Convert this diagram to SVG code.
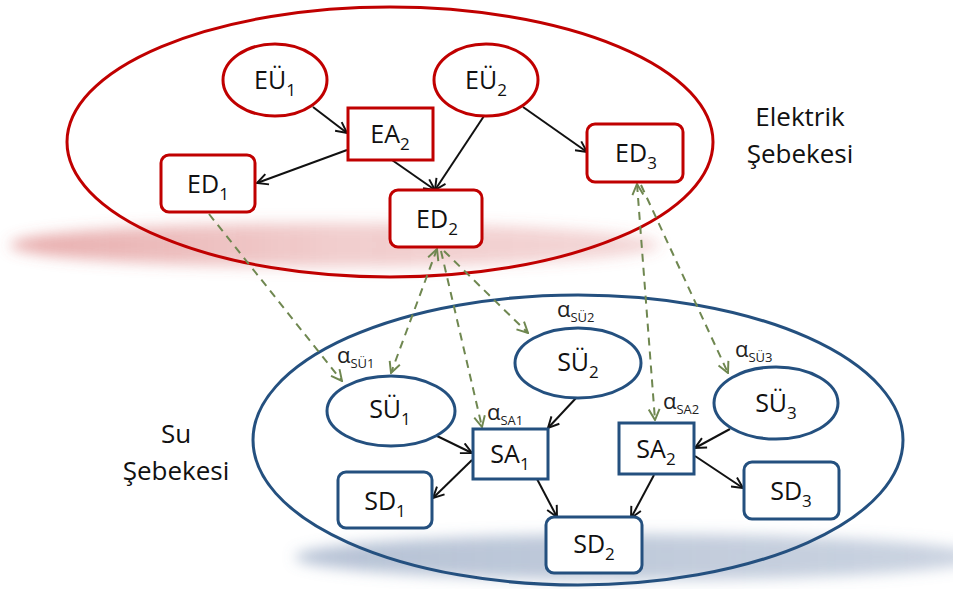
<svg xmlns="http://www.w3.org/2000/svg" width="953" height="589" viewBox="0 0 953 589">
<style>
.big-red { fill: none; stroke: #C00000; stroke-width: 3; }
.big-blue { fill: none; stroke: #24507f; stroke-width: 3; }
.n-red { fill: #ffffff; stroke: #C00000; stroke-width: 3; }
.n-blue { fill: #ffffff; stroke: #24507f; stroke-width: 3; }
.lbl { font-family: "Open Sans", "Liberation Sans", sans-serif; font-size: 25px; fill: #111111; text-anchor: middle; }
.sub { font-size: 17px; }
.title { font-family: "Open Sans", "Liberation Sans", sans-serif; font-size: 26px; fill: #111111; text-anchor: middle; }
.alpha { font-family: "Open Sans", "Liberation Sans", sans-serif; font-size: 22px; fill: #222222; }
.asub { font-size: 13px; }
.blk { stroke: #111111; stroke-width: 2; fill: none; marker-end: url(#ah); }
.grn { stroke: #6f8750; stroke-width: 2; stroke-dasharray: 8 6; fill: none; marker-end: url(#gh); }
.grn2 { marker-start: url(#gh); }
</style>
<defs>
<marker id="ah" viewBox="0 0 12 12" refX="11" refY="6" markerWidth="13" markerHeight="13" markerUnits="userSpaceOnUse" orient="auto-start-reverse">
<path d="M1,1 L11,6 L1,11" fill="none" stroke="#111111" stroke-width="1.8"/>
</marker>
<marker id="gh" viewBox="0 0 12 12" refX="11" refY="6" markerWidth="13" markerHeight="13" markerUnits="userSpaceOnUse" orient="auto-start-reverse">
<path d="M1,1 L11,6 L1,11" fill="none" stroke="#6f8750" stroke-width="1.8" stroke-dasharray="none"/>
</marker>
<filter id="blur" x="-20%" y="-100%" width="140%" height="300%">
<feGaussianBlur stdDeviation="7"/>
</filter>
<linearGradient id="redsh" x1="0" y1="0" x2="1" y2="0">
<stop offset="0" stop-color="#d05a5a" stop-opacity="0.5"/>
<stop offset="0.5" stop-color="#d05a5a" stop-opacity="0.3"/>
<stop offset="1" stop-color="#d05a5a" stop-opacity="0.25"/>
</linearGradient>
<linearGradient id="bluesh" x1="0" y1="0" x2="1" y2="0">
<stop offset="0" stop-color="#6c84aa" stop-opacity="0.5"/>
<stop offset="1" stop-color="#6c84aa" stop-opacity="0.35"/>
</linearGradient>
</defs>

<g id="shadows">
<ellipse cx="335" cy="245" rx="325" ry="22" fill="url(#redsh)" filter="url(#blur)"/>
<ellipse cx="640" cy="557" rx="345" ry="23" fill="url(#bluesh)" filter="url(#blur)"/>
</g>

<g id="elektrik-sebekesi">
<ellipse class="big-red" cx="390" cy="142" rx="323" ry="135"/>
<text class="title" x="800" y="126">Elektrik</text>
<text class="title" x="800" y="163">Şebekesi</text>
</g>

<g id="su-sebekesi">
<ellipse class="big-blue" cx="578" cy="440" rx="325" ry="145"/>
<text class="title" x="176" y="443">Su</text>
<text class="title" x="176" y="480">Şebekesi</text>
</g>

<g id="connectors">
<line class="blk" x1="313" y1="107" x2="347" y2="133"/>
<line class="blk" x1="347" y1="150" x2="257" y2="183"/>
<line class="blk" x1="392" y1="160" x2="435" y2="190"/>
<line class="blk" x1="484" y1="116" x2="435" y2="190"/>
<line class="blk" x1="523" y1="107" x2="587" y2="152"/>
<line class="blk" x1="437" y1="436" x2="472" y2="453"/>
<line class="blk" x1="472" y1="460" x2="433" y2="498"/>
<line class="blk" x1="577" y1="397" x2="548" y2="428"/>
<line class="blk" x1="537" y1="479" x2="557" y2="517"/>
<line class="blk" x1="654" y1="475" x2="631" y2="518"/>
<line class="blk" x1="730" y1="429" x2="695" y2="448"/>
<line class="blk" x1="695" y1="456" x2="743" y2="488"/>
<line class="grn" x1="209" y1="214" x2="342" y2="381"/>
<line class="grn grn2" x1="437" y1="249" x2="391" y2="373"/>
<line class="grn" x1="441" y1="251" x2="482" y2="427"/>
<line class="grn" x1="444" y1="251" x2="528" y2="333"/>
<line class="grn grn2" x1="637" y1="184" x2="655" y2="420"/>
<line class="grn" x1="641" y1="185" x2="728" y2="373"/>
</g>

<g id="EU1">
<ellipse class="n-red" cx="275" cy="80" rx="52" ry="36"/>
<text class="lbl" x="275" y="89">EÜ<tspan class="sub" dy="7">1</tspan></text>
</g>
<g id="EU2">
<ellipse class="n-red" cx="486" cy="80" rx="52" ry="36"/>
<text class="lbl" x="486" y="89">EÜ<tspan class="sub" dy="7">2</tspan></text>
</g>
<g id="EA2">
<rect class="n-red" x="348" y="108" width="85" height="52"/>
<text class="lbl" x="390" y="143">EA<tspan class="sub" dy="7">2</tspan></text>
</g>
<g id="ED1">
<rect class="n-red" x="161" y="155" width="94" height="57" rx="8"/>
<text class="lbl" x="208" y="193">ED<tspan class="sub" dy="7">1</tspan></text>
</g>
<g id="ED2">
<rect class="n-red" x="390" y="190" width="92" height="57" rx="8"/>
<text class="lbl" x="437" y="228">ED<tspan class="sub" dy="7">2</tspan></text>
</g>
<g id="ED3">
<rect class="n-red" x="587" y="124" width="96" height="58" rx="8"/>
<text class="lbl" x="636" y="162">ED<tspan class="sub" dy="7">3</tspan></text>
</g>

<g id="SU1">
<ellipse class="n-blue" cx="391" cy="411" rx="64" ry="35"/>
<text class="lbl" x="390" y="418">SÜ<tspan class="sub" dy="7">1</tspan></text>
</g>
<g id="SU2">
<ellipse class="n-blue" cx="578" cy="363" rx="63" ry="35"/>
<text class="lbl" x="578" y="371">SÜ<tspan class="sub" dy="7">2</tspan></text>
</g>
<g id="SU3">
<ellipse class="n-blue" cx="776" cy="403" rx="62" ry="36"/>
<text class="lbl" x="776" y="412">SÜ<tspan class="sub" dy="7">3</tspan></text>
</g>
<g id="SA1">
<rect class="n-blue" x="473" y="429" width="75" height="50"/>
<text class="lbl" x="510" y="463">SA<tspan class="sub" dy="7">1</tspan></text>
</g>
<g id="SA2">
<rect class="n-blue" x="619" y="423" width="75" height="51"/>
<text class="lbl" x="656" y="458">SA<tspan class="sub" dy="7">2</tspan></text>
</g>
<g id="SD1">
<rect class="n-blue" x="338" y="472" width="94" height="56" rx="8"/>
<text class="lbl" x="385" y="510">SD<tspan class="sub" dy="7">1</tspan></text>
</g>
<g id="SD2">
<rect class="n-blue" x="546" y="517" width="96" height="56" rx="8"/>
<text class="lbl" x="594" y="553">SD<tspan class="sub" dy="7">2</tspan></text>
</g>
<g id="SD3">
<rect class="n-blue" x="744" y="462" width="95" height="57" rx="8"/>
<text class="lbl" x="791" y="500">SD<tspan class="sub" dy="7">3</tspan></text>
</g>

<g id="alpha-labels">
<text class="alpha" x="337" y="363">α<tspan class="asub" dy="5">SÜ1</tspan></text>
<text class="alpha" x="487" y="420">α<tspan class="asub" dy="5">SA1</tspan></text>
<text class="alpha" x="557" y="317">α<tspan class="asub" dy="5">SÜ2</tspan></text>
<text class="alpha" x="663" y="409">α<tspan class="asub" dy="5">SA2</tspan></text>
<text class="alpha" x="735" y="357">α<tspan class="asub" dy="5">SÜ3</tspan></text>
</g>
</svg>
